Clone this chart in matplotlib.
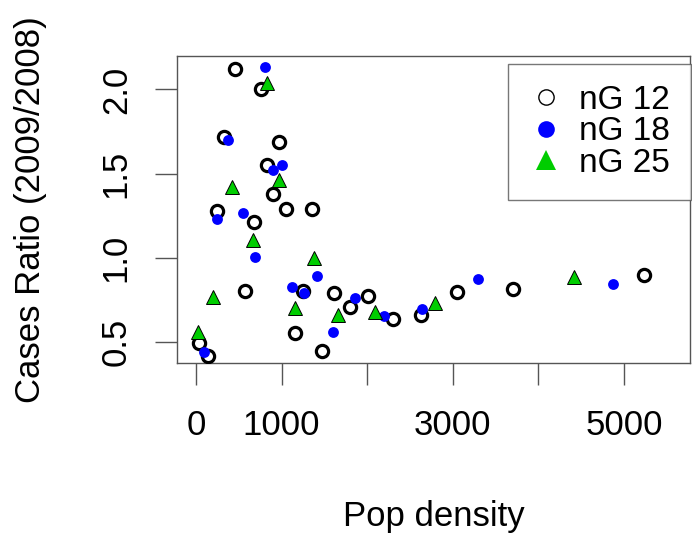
import numpy as np
import matplotlib.pyplot as plt
from matplotlib.lines import Line2D

plt.rcParams['font.family'] = ['Liberation Sans', 'DejaVu Sans']

# population density and case ratio (2009/2008) for each group size
pop_12 = [456, 757, 331, 967, 827, 897, 242, 1049, 1360, 682, 573, 1248,
          1618, 1801, 2015, 2296, 1158, 1477, 39, 137, 2628, 3049, 3699, 5232]
ratio_12 = [2.12, 2.00, 1.72, 1.69, 1.55, 1.38, 1.28, 1.29, 1.29, 1.21, 0.80, 0.80,
            0.79, 0.71, 0.77, 0.635, 0.555, 0.446, 0.496, 0.417, 0.661, 0.796, 0.815, 0.899]

pop_18 = [804, 378, 1002, 897, 546, 242, 694, 1419, 1126, 1263, 1860, 1599,
          2191, 97, 2640, 3295, 4874]
ratio_18 = [2.135, 1.70, 1.548, 1.524, 1.266, 1.232, 1.002, 0.889, 0.826, 0.790, 0.760, 0.560,
            0.657, 0.442, 0.695, 0.875, 0.843]

pop_25 = [827, 418, 974, 663, 1380, 202, 23, 1158, 1664, 2094, 2787, 4413]
ratio_25 = [2.04, 1.421, 1.46, 1.107, 0.998, 0.766, 0.561, 0.70, 0.661, 0.68, 0.734, 0.883]

x_ticks = [0, 1000, 2000, 3000, 4000, 5000]
x_tick_labels = ['0', '1000', '', '3000', '', '5000']
y_ticks = [0.5, 1.0, 1.5, 2.0]
legend_labels = ['nG 12', 'nG 18', 'nG 25']

green = '#00CD00'

fig = plt.figure(figsize=(6.92, 5.37), dpi=100)
ax = fig.add_axes([177 / 692, 1 - 363 / 537, 513 / 692, 307.3 / 537])

ax.plot(pop_12, ratio_12, 'o', ms=8.8, mfc='none', mec='black', mew=2.3, zorder=3)
ax.plot(pop_18, ratio_18, 'o', ms=7.8, mfc='blue', mec='blue', mew=0, zorder=4)
ax.plot(pop_25, ratio_25, '^', ms=10, mfc=green, mec='black', mew=0.7, zorder=5)

ax.set_xlim(-222, 5772)
ax.set_ylim(0.375, 2.2)

ax.set_xticks(x_ticks)
ax.set_xticklabels(x_tick_labels)
ax.set_yticks(y_ticks)
ax.set_yticklabels([f'{v:.1f}' for v in y_ticks], rotation=90, va='center')

ax.tick_params(axis='both', direction='out', length=15.8, width=1.0,
               color='#555555', labelsize=25)
ax.tick_params(axis='x', pad=17)
ax.tick_params(axis='y', pad=16)
for s in ax.spines.values():
    s.set_color('#555555')
    s.set_linewidth(1.0)

ax.set_xlabel('Pop density', fontsize=25, labelpad=42)
ax.set_ylabel('Cases Ratio (2009/2008)', fontsize=25, labelpad=38)

handles = [
    Line2D([], [], ls='none', marker='o', ms=11, mfc='none', mec='black', mew=1.0),
    Line2D([], [], ls='none', marker='o', ms=12, mfc='blue', mec='blue', mew=0),
    Line2D([], [], ls='none', marker='^', ms=14, mfc=green, mec=green, mew=0),
]
leg = ax.legend(handles, legend_labels, loc='upper right',
                bbox_to_anchor=(690.7 / 692, 1 - 64 / 537), bbox_transform=fig.transFigure,
                fontsize=24, frameon=True, fancybox=False, edgecolor='#555555',
                handlelength=1.0, handletextpad=0.5, labelspacing=0.02,
                borderpad=0.62, borderaxespad=0)
leg.get_frame().set_linewidth(1.0)

fig.savefig('out.png', dpi=100)
